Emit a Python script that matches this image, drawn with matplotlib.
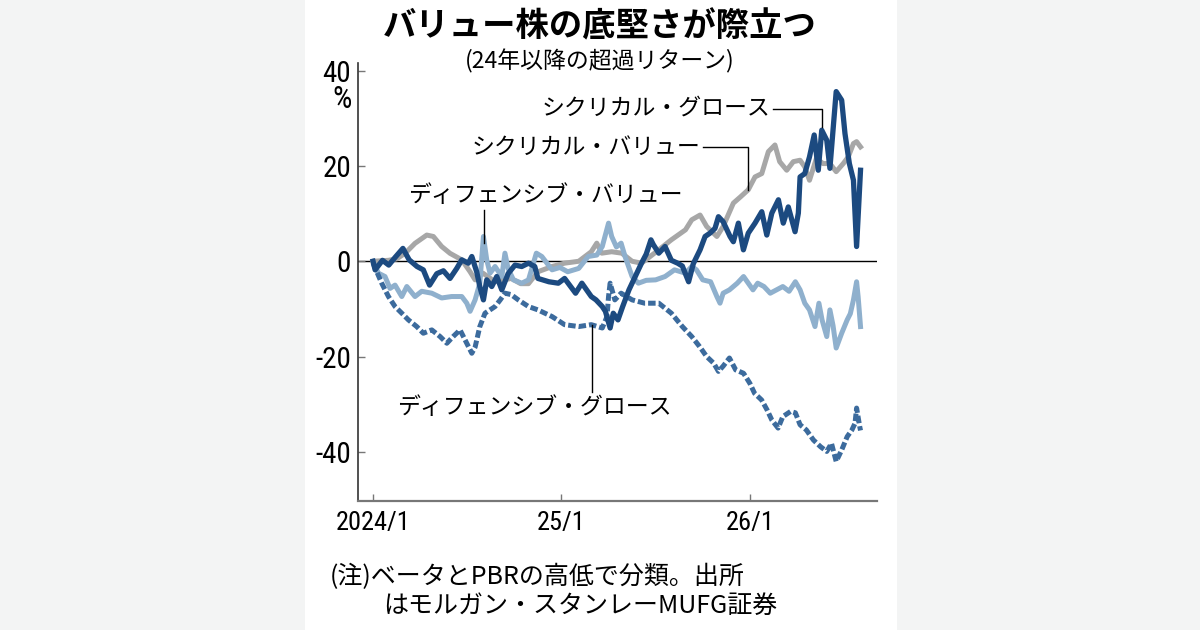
import matplotlib
matplotlib.use("Agg")
import matplotlib.pyplot as plt
from matplotlib import font_manager
from matplotlib.patches import Rectangle
from matplotlib.lines import Line2D

# fonts: CJK for the Japanese text, a narrow face for numbers if there is one
names = {f.name for f in font_manager.fontManager.ttflist}
jp = ["Noto Sans CJK JP", "DejaVu Sans"]
num_font = jp
num_size = 15
for cand in ["Roboto Condensed", "Liberation Sans Narrow", "Open Sans Condensed"]:
    if cand in names:
        num_font = [cand, "DejaVu Sans"]
        num_size = 18
        break
plt.rcParams["font.family"] = jp

# months since 2024/1 and excess return (%)
cg_m = [0, 0.13, 0.6, 1.0, 1.4, 1.9, 2.3, 2.8, 3.2, 3.6, 4.06, 4.48, 4.9, 5.33, 5.65,
        6.07, 6.29, 6.6, 6.8, 7.03, 7.24, 7.56, 7.88, 8.2, 8.6, 9.04, 9.47, 9.9, 10.3,
        10.5, 11.2, 11.8, 12.2, 12.9, 13.3, 13.6, 13.9, 14.2, 14.6, 14.8, 15.1, 15.3,
        15.6, 15.9, 16.3, 16.7, 17.1, 17.4, 17.7, 17.85, 18.2, 18.6, 19.0, 19.4, 19.7,
        20.1, 20.4, 20.83, 21.15, 21.46, 21.78, 22.0, 22.3, 22.74, 22.95, 23.27, 23.59,
        23.9, 24.33, 24.76, 25.08, 25.4, 25.82, 26.13, 26.45, 26.88, 27.09, 27.2, 27.5,
        27.8, 28.1, 28.36, 28.58, 28.9, 29.1, 29.5, 29.85, 30.06, 30.34, 30.6, 30.8, 31.05]
cg_v = [0, -1.8, 0.2, -0.8, 0.8, 2.7, 0.3, -1.1, -1.8, -5.0, -2.6, -2.0, -3.6, -1.5, 0.3,
        -0.4, 1.0, -2.2, -5.3, -8.1, -3.9, -5.3, -3.2, -6.0, -2.6, -0.8, -1.1, -0.4, -1.1,
        -3.6, -4.3, -4.6, -3.6, -6.7, -4.6, -6.0, -7.4, -8.1, -9.5, -10.5, -14.0, -10.9,
        -12.3, -9.5, -6.0, -3.2, -0.4, 1.5, 4.5, 3.5, 1.7, 3.1, 0.2, -0.4, -1.0,
        -4.3, -0.5, 2.4, 5.2, 5.9, 6.9, 9.35, 8.3, 5.2, 4.1, 8.0, 2.4,
        5.9, 8.0, 10.4, 5.5, 10.1, 12.9, 8.0, 11.4, 6.2, 10.1, 17.7, 18.4,
        21.9, 26.5, 19.1, 27.5, 25.4, 19.5, 35.6, 33.8, 26.8, 20.5, 17.0, 3.1, 19.1]

cv_m = [0, 0.98, 1.5, 2.04, 2.67, 3.42, 3.84, 4.37, 4.9, 5.65, 6.18, 6.5, 7.0, 7.77, 8.8,
        9.4, 9.9, 10.5, 11.4, 12.2, 13.1, 13.9, 14.25, 14.57, 15.2, 15.84, 16.5, 17.1,
        18.2, 19.0, 19.9, 20.3, 20.83, 21.25, 21.9, 22.3, 22.95, 23.4, 23.9, 24.33, 24.76,
        25.18, 25.6, 25.9, 26.35, 26.77, 27.2, 27.5, 27.8, 28.24, 28.66, 29.1, 29.5, 29.95,
        30.27, 30.6, 30.8, 31.05]
cv_v = [0, 0.2, 0.5, 1.67, 3.76, 5.5, 5.2, 3.1, 1.67, 0.3, -2.2, -3.9, -2.5, -4.3, -3.6,
        -4.7, -4.7, -2.2, -1.1, -0.4, 0.0, 2.0, 3.8, 1.7, 2.0, 1.7, 0.0, -0.4,
        2.4, 4.5, 6.6, 8.7, 9.7, 7.3, 5.2, 7.3, 12.2, 13.5, 15.0, 17.7, 18.4,
        23.0, 24.4, 20.9, 19.1, 20.9, 21.2, 19.8, 17.0, 21.6, 20.5, 20.5, 18.8, 20.5,
        21.9, 24.7, 25.1, 24.0]

dv_m = [0, 0.34, 0.76, 1.08, 1.4, 1.83, 2.15, 2.67, 3.1, 3.74, 4.37, 5.0, 5.65, 5.97, 6.18,
        6.5, 6.8, 7.03, 7.24, 7.45, 7.77, 8.2, 8.4, 8.6, 8.94, 9.47, 9.9, 10.4, 10.75, 11.4,
        11.9, 12.4, 13.1, 13.7, 14.25, 14.6, 15.0, 15.2, 15.5, 15.8, 16.05, 16.5, 16.9,
        17.4, 18.0, 18.6, 19.2, 19.9, 20.3, 20.6, 21.0, 21.5, 21.9, 22.1, 22.3, 22.7, 23.2,
        23.6, 23.9, 24.2, 24.5, 24.9, 25.3, 25.7, 26.1, 26.5, 26.9, 27.2, 27.5, 27.8, 28.15,
        28.4, 28.6, 28.9, 29.1, 29.3, 29.5, 29.85, 30.2, 30.4, 30.6, 30.8, 30.9, 31.05]
dv_v = [0, -2.5, -3.2, -5.7, -5.0, -7.4, -5.3, -7.4, -6.3, -6.7, -7.7, -7.4, -7.4, -8.8, -10.5,
        -8.1, -4.6, 5.2, 0.3, -2.5, -1.1, -3.2, 1.7, -1.5, -3.9, -4.6, -3.9, 1.7, 1.0, -1.8,
        -1.3, -2.2, -1.5, 1.0, 1.3, 3.1, 8.0, 5.2, 3.0, 3.8, 1.0, -3.2, -4.6,
        -4.0, -3.9, -3.2, -1.8, -2.5, -1.1, -1.8, -3.9, -4.3, -7.4, -8.8, -6.7, -6.0, -4.6,
        -3.2, -4.6, -6.0, -4.6, -5.3, -6.7, -6.0, -5.3, -6.3, -4.3, -6.0, -8.8, -10.2, -13.7,
        -8.8, -12.3, -15.8, -10.2, -13.5, -18.2, -15.1, -12.3, -11.0, -8.1, -4.3, -7.5, -13.7]

dg_m = [0, 0.55, 0.98, 1.4, 1.83, 2.25, 2.78, 3.2, 3.74, 4.27, 4.7, 5.1, 5.54, 5.86, 6.29,
        6.5, 6.8, 7.13, 7.45, 7.77, 8.1, 8.4, 8.8, 9.25, 9.9, 10.5, 11.4, 12.2, 13.1, 13.9,
        14.6, 14.9, 15.0, 15.1, 15.4, 15.8, 16.5, 17.3, 18.2, 19.0, 19.7, 20.3, 20.8, 21.25,
        21.7, 22.0, 22.3, 22.7, 23.1, 23.6, 24.0, 24.3, 24.75, 25.1, 25.4, 25.8, 26.1, 26.6,
        26.9, 27.2, 27.6, 28.05, 28.5, 28.9, 29.2, 29.5, 29.85, 30.2, 30.5, 30.7, 30.8, 31.0,
        31.05]
dg_v = [-0.4, -4.6, -7.4, -9.5, -10.9, -12.3, -13.7, -15.1, -14.4, -15.8, -17.2, -15.8, -14.4,
        -16.5, -19.3, -18.0, -13.7, -10.9, -10.2, -9.5, -8.1, -6.7, -7.0, -8.1, -9.5, -10.2,
        -11.6, -13.3, -13.7, -13.3, -14.0, -11.6, -7.4, -4.6, -8.1, -6.7, -8.1, -8.8, -8.8,
        -10.9, -13.7, -15.8, -17.9, -20.0, -21.4, -23.1, -22.0, -20.3, -22.8, -23.5, -25.6,
        -27.7, -29.1, -31.2, -33.3, -35.0, -32.6, -31.5, -31.8, -34.3, -35.4, -37.5, -38.9,
        -39.9, -38.2, -42.0, -39.6, -36.8, -35.4, -34.0, -30.8, -34.7, -35.5]

xticks = [0, 12, 24]
xtick_labels = ["2024/1", "25/1", "26/1"]
yticks = [-40, -20, 0, 20, 40]

W, H = 1200, 630


def fx(x):
    return x / W


def fy(y):
    return 1 - y / H


fig = plt.figure(figsize=(12, 6.3), dpi=100)
fig.patch.set_facecolor("#f3f4f4")
fig.add_artist(Rectangle((fx(305), 0), fx(897 - 305), 1, transform=fig.transFigure,
                         facecolor="white", edgecolor="none", zorder=0))

ax = fig.add_axes([fx(358), fy(501), fx(877 - 358), (501 - 63) / H])
ax.set_facecolor("white")

lw = 3.6
ax.axhline(0, color="black", lw=1.0, zorder=1)
ax.plot(cv_m, cv_v, color="#a7a7a7", lw=lw, zorder=2, solid_joinstyle="round")
ax.plot(dv_m, dv_v, color="#8fb0cd", lw=lw, zorder=3, solid_joinstyle="round")
ax.plot(dg_m, dg_v, color="#3c6b9d", lw=lw, zorder=4, linestyle=(0, (1.5, 0.6)),
        dash_capstyle="butt")
ax.plot(cg_m, cg_v, color="#1c4a80", lw=lw + 0.2, zorder=5, solid_joinstyle="round")

ax.set_xlim(-0.96, 32.1)
ax.set_ylim(-50.3, 41.6)
ax.set_xticks(xticks)
ax.set_xticklabels(xtick_labels, family=num_font, fontsize=num_size + 1)
ax.set_yticks(yticks)
ax.set_yticklabels([str(v) for v in yticks], family=num_font, fontsize=num_size + 3)
ax.tick_params(axis="x", direction="in", length=5, width=1, color="#777777", pad=7)
ax.tick_params(axis="y", direction="in", length=5, width=1, color="#777777", pad=5)

for s in ["top", "right"]:
    ax.spines[s].set_visible(False)
ax.spines["left"].set_color("#333333")
ax.spines["left"].set_linewidth(1.2)
ax.spines["bottom"].set_color("#777777")
ax.spines["bottom"].set_linewidth(1.6)

fig.text(fx(342), fy(100), "%", ha="center", va="center", fontsize=num_size + 4,
         family=num_font)

# title and subtitle
fig.text(0.5, fy(27), "バリュー株の底堅さが際立つ", ha="center", va="center",
         fontsize=24, fontweight="bold")
fig.text(0.5, fy(61), "(24年以降の超過リターン)", ha="center", va="center", fontsize=16.5)

# series labels with leader lines
fig.text(fx(770), fy(108), "シクリカル・グロース", ha="right", va="center", fontsize=16.5)
fig.text(fx(700), fy(147), "シクリカル・バリュー", ha="right", va="center", fontsize=16.5)
fig.text(fx(408), fy(195), "ディフェンシブ・バリュー", ha="left", va="center", fontsize=16.5)
fig.text(fx(397), fy(408), "ディフェンシブ・グロース", ha="left", va="center", fontsize=16.5)

leaders = [
    ([773, 822, 822], [109, 109, 127]),
    ([703, 748, 748], [147, 147, 190]),
    ([484, 484], [210, 243]),
    ([592, 592], [325, 392]),
]
for xs, ys in leaders:
    fig.add_artist(Line2D([fx(x) for x in xs], [fy(y) for y in ys], color="black",
                          lw=1.0, transform=fig.transFigure, zorder=6))

# note
fig.text(fx(330), fy(577), "(注)ベータとPBRの高低で分類。出所", ha="left", va="center",
         fontsize=18)
fig.text(fx(383), fy(606), "はモルガン・スタンレーMUFG証券", ha="left", va="center",
         fontsize=18)

fig.savefig("out.png", dpi=100, facecolor=fig.get_facecolor())
